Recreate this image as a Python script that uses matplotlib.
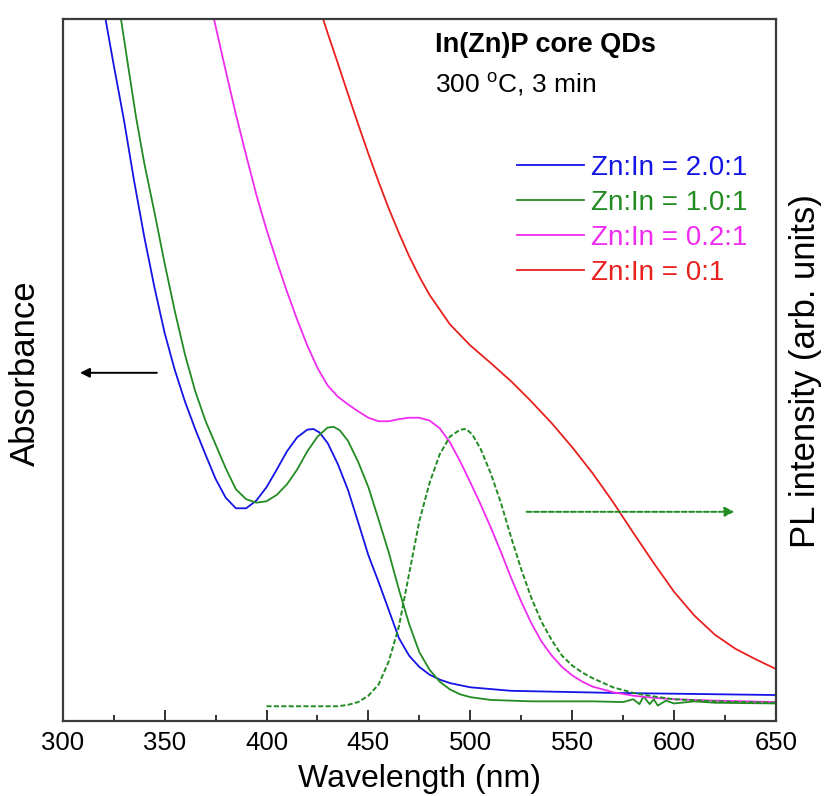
import matplotlib
matplotlib.use("Agg")
import matplotlib.pyplot as plt
from matplotlib.lines import Line2D

plt.rcParams['font.family'] = ['Liberation Sans', 'DejaVu Sans']
plt.rcParams['mathtext.fontset'] = 'custom'
plt.rcParams['mathtext.rm'] = 'Liberation Sans'

# ---- data (wavelength in nm, absorbance / PL in normalised units) ----
wl_blue = [318, 321, 325, 330, 335, 340, 345, 350, 355, 360, 365, 370, 375, 380, 385, 390, 395,
           400, 405, 410, 415, 420, 423, 426, 430, 435, 440, 445, 450, 455, 460, 465, 470, 475,
           480, 485, 490, 500, 520, 570, 650]
abs_blue = [1.07, 1.0, 0.935, 0.857, 0.770, 0.690, 0.618, 0.553, 0.500, 0.455, 0.416, 0.380, 0.345,
            0.318, 0.303, 0.303, 0.314, 0.333, 0.358, 0.384, 0.404, 0.415, 0.416, 0.411, 0.396, 0.366,
            0.329, 0.283, 0.236, 0.198, 0.158, 0.118, 0.093, 0.077, 0.066, 0.059, 0.054, 0.048,
            0.043, 0.040, 0.037]

wl_green = [326, 328.6, 332, 336, 340, 345, 350, 355, 360, 365, 370, 375, 380, 385, 390, 395, 400,
            405, 410, 415, 420, 425, 430, 433, 436, 440, 445, 450, 455, 460, 465, 470, 475, 480,
            485, 490, 495, 500, 510, 530, 560, 575, 580, 583, 585, 588, 590, 592, 596, 600, 610,
            620, 650]
abs_green = [1.06, 1.0, 0.935, 0.860, 0.795, 0.725, 0.652, 0.584, 0.522, 0.470, 0.428, 0.394, 0.360,
             0.330, 0.316, 0.311, 0.313, 0.322, 0.337, 0.358, 0.384, 0.405, 0.418, 0.419, 0.414, 0.399,
             0.369, 0.333, 0.287, 0.240, 0.187, 0.138, 0.098, 0.073, 0.056, 0.045, 0.038, 0.034,
             0.030, 0.028, 0.028, 0.027, 0.031, 0.024, 0.035, 0.024, 0.031, 0.022, 0.029, 0.025,
             0.028, 0.026, 0.025]

wl_magenta = [372, 375, 380, 385, 390, 395, 400, 405, 410, 415, 420, 425, 430, 435, 440, 445, 450,
              455, 460, 465, 470, 475, 480, 485, 490, 495, 500, 505, 510, 515, 520, 525, 530, 535,
              540, 545, 550, 555, 560, 570, 580, 590, 600, 620, 650]
abs_magenta = [1.03, 0.99, 0.926, 0.864, 0.806, 0.750, 0.700, 0.655, 0.612, 0.572, 0.535, 0.503,
               0.478, 0.462, 0.451, 0.441, 0.432, 0.427, 0.427, 0.430, 0.432, 0.432, 0.428, 0.417,
               0.397, 0.370, 0.340, 0.309, 0.276, 0.241, 0.204, 0.170, 0.139, 0.113, 0.093, 0.077,
               0.065, 0.056, 0.049, 0.041, 0.036, 0.033, 0.031, 0.029, 0.027]

wl_red = [425, 430, 435, 440, 445, 450, 455, 460, 465, 470, 475, 480, 490, 500, 510, 520, 530,
          540, 550, 560, 570, 580, 590, 600, 610, 620, 630, 640, 650]
abs_red = [1.025, 0.98, 0.937, 0.893, 0.850, 0.808, 0.768, 0.730, 0.695, 0.662, 0.633, 0.607,
           0.565, 0.535, 0.510, 0.484, 0.455, 0.424, 0.390, 0.353, 0.312, 0.268, 0.225, 0.184,
           0.150, 0.123, 0.103, 0.088, 0.074]

wl_pl = [400, 420, 435, 440, 445, 450, 455, 460, 465, 470, 475, 480, 485, 490, 495, 498, 501,
         505, 510, 515, 520, 525, 530, 535, 540, 545, 550, 555, 560, 570, 580, 590, 600, 620, 650]
pl_green = [0.021, 0.021, 0.021, 0.023, 0.027, 0.036, 0.052, 0.085, 0.135, 0.210, 0.285, 0.339,
            0.380, 0.405, 0.415, 0.416, 0.408, 0.388, 0.353, 0.311, 0.262, 0.216, 0.175, 0.141,
            0.115, 0.093, 0.079, 0.069, 0.061, 0.048, 0.040, 0.035, 0.031, 0.028, 0.026]

labels = ['Zn:In = 2.0:1', 'Zn:In = 1.0:1', 'Zn:In = 0.2:1', 'Zn:In = 0:1']
colors = ['#1414e6', '#228b22', '#f02cf0', '#e8201e']

fig = plt.figure(figsize=(8.29, 7.96), dpi=100)
ax = fig.add_axes([62.7 / 829, 1 - 721 / 796, 713.3 / 829, 702 / 796])

lw = 1.3
ax.plot(wl_blue, abs_blue, color=colors[0], lw=lw)
ax.plot(wl_green, abs_green, color=colors[1], lw=lw)
ax.plot(wl_magenta, abs_magenta, color=colors[2], lw=lw)
ax.plot(wl_red, abs_red, color=colors[3], lw=lw)
ax.plot(wl_pl, pl_green, color=colors[1], lw=1.4, linestyle=(0, (2.6, 1.2)))

ax.set_xlim(300, 650)
ax.set_ylim(0, 1)
ax.set_xticks([300, 350, 400, 450, 500, 550, 600, 650])
ax.set_xticks([325, 375, 425, 475, 525, 575, 625], minor=True)
ax.set_yticks([])
ax.tick_params(axis='x', which='major', direction='in', length=8, width=1.3,
               labelsize=18.5, pad=7, colors='#222222')
ax.tick_params(axis='x', which='minor', direction='in', length=4.5, width=1.3, colors='#222222')
ax.tick_params(axis='x', labelcolor='black')
for s in ax.spines.values():
    s.set_linewidth(1.6)
    s.set_color('#3a3a3a')

ax.set_xlabel('Wavelength (nm)', fontsize=23, labelpad=7)
ax.set_ylabel('Absorbance', fontsize=25)
ax.yaxis.label.set_va('center')
ax.yaxis.set_label_coords((25 - 62.7) / 713.3, (721 - 373) / 702)

ax2 = ax.twinx()
ax2.set_ylim(0, 1)
ax2.set_yticks([])
for s in ax2.spines.values():
    s.set_visible(False)
ax2.set_ylabel('PL intensity (arb. units)', fontsize=25, rotation=90)
ax2.yaxis.label.set_va('center')
ax2.yaxis.set_label_coords((806 - 62.7) / 713.3, (721 - 371) / 702)

# annotations
ax.text(482.5, 0.953, 'In(Zn)P core QDs', fontsize=19.5, fontweight='bold', ha='left', va='baseline')
ax.text(482.5, 0.896, r'300 $^{\mathrm{o}}$C, 3 min', fontsize=19, ha='left', va='baseline')

ax.annotate('', xy=(308.5, 0.496), xytext=(346.2, 0.496),
            arrowprops=dict(arrowstyle='-|>', color='black', lw=1.4, mutation_scale=14,
                            shrinkA=0, shrinkB=0))
ax.annotate('', xy=(629.6, 0.298), xytext=(527.6, 0.298),
            arrowprops=dict(arrowstyle='-|>', color=colors[1], lw=1.4, mutation_scale=14,
                            linestyle=(0, (2.6, 1.2)), shrinkA=0, shrinkB=0))

handles = [Line2D([], [], color=c, lw=lw) for c in colors]
leg = ax.legend(handles, labels, loc='upper left',
                bbox_to_anchor=((517 - 62.7) / 713.3, (721 - 155) / 702),
                frameon=False, fontsize=20, handlelength=2.4, handletextpad=0.27,
                labelspacing=0.32, borderpad=0, borderaxespad=0, labelcolor='linecolor')

fig.savefig('out.png', dpi=100)
